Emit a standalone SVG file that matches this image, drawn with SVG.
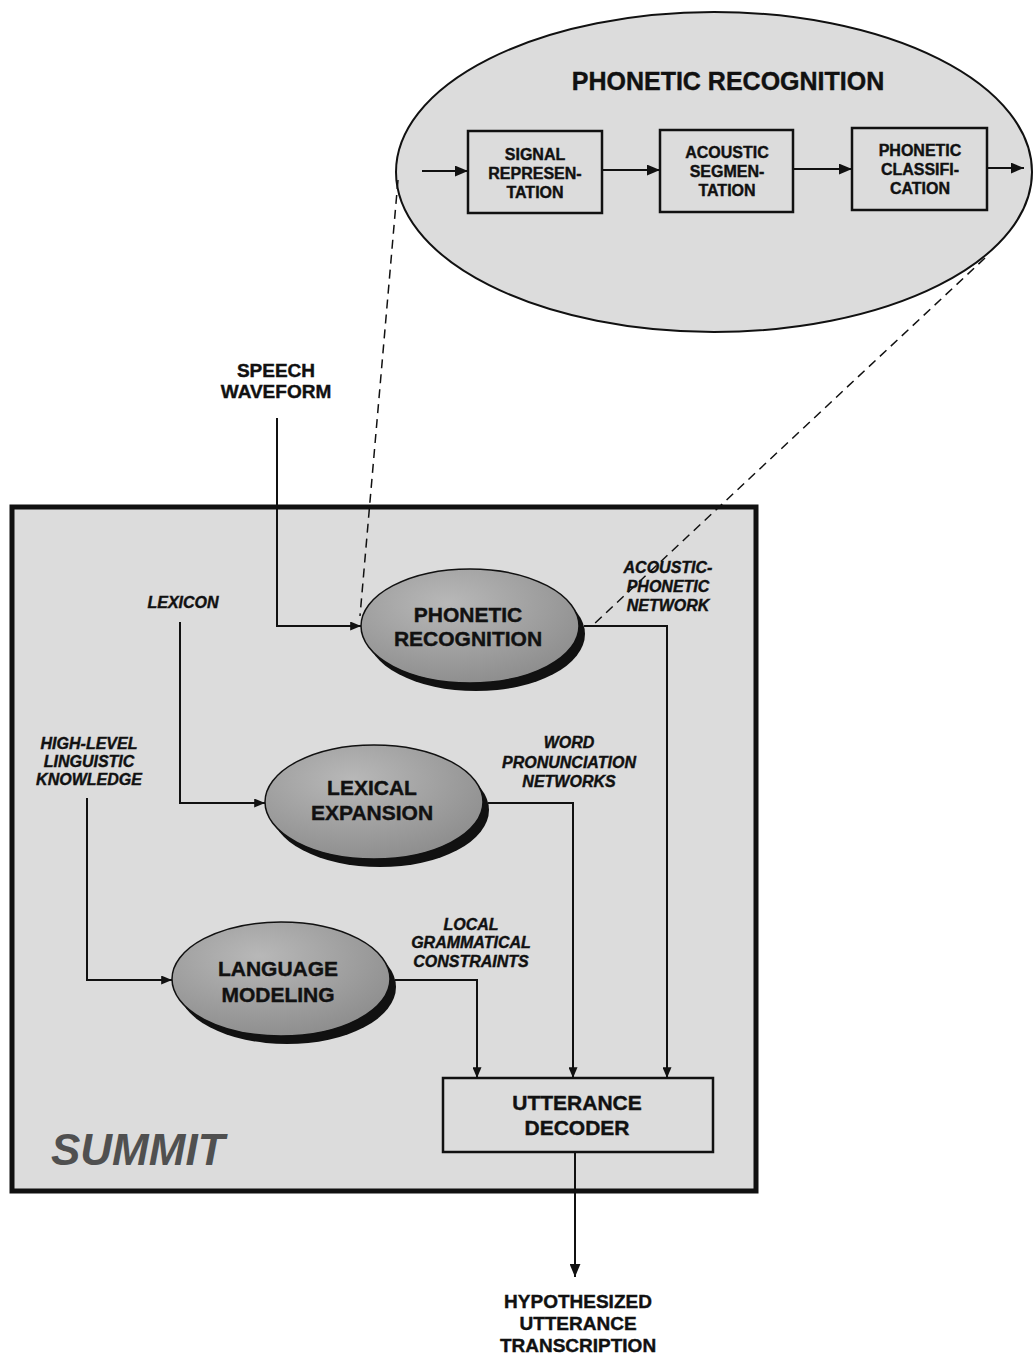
<svg xmlns="http://www.w3.org/2000/svg" width="1034" height="1357" viewBox="0 0 1034 1357">
<defs>
<style>
.t{font-family:"Liberation Sans",Arial,sans-serif;font-weight:bold;fill:#111;stroke:#111;stroke-width:0.4;text-anchor:middle}
.i{font-style:italic}
.ln{fill:none;stroke:#111;stroke-width:2}
.ds{fill:none;stroke:#111;stroke-width:1.5;stroke-dasharray:9,6}
.bx{fill:#dcdcdc;stroke:#111;stroke-width:2.5}
.ov{fill:url(#og);stroke:#111;stroke-width:1.5}
.sh{fill:#111}
</style>
<radialGradient id="og" cx="0.4" cy="0.3" r="0.75">
<stop offset="0" stop-color="#b8b8b8"/>
<stop offset="1" stop-color="#8c8c8c"/>
</radialGradient>
<marker id="ah" viewBox="0 0 12 10" refX="12" refY="5" markerWidth="12" markerHeight="9" orient="auto" markerUnits="userSpaceOnUse">
<path d="M0,0 L12,5 L0,10 z" fill="#111"/>
</marker>
<marker id="ahb" viewBox="0 0 12 10" refX="12" refY="5" markerWidth="13" markerHeight="11" orient="auto" markerUnits="userSpaceOnUse">
<path d="M0,0 L12,5 L0,10 z" fill="#111"/>
</marker>
</defs>
<rect width="1034" height="1357" fill="#ffffff"/>

<g id="phonetic-detail">
<ellipse cx="714" cy="172" rx="318" ry="160" fill="#dcdcdc" stroke="#111" stroke-width="2"/>
<text class="t" x="728" y="90" font-size="25">PHONETIC RECOGNITION</text>
</g>
<g id="signal-representation">
<rect class="bx" x="468" y="131" width="134" height="82"/>
<text class="t" font-size="16"><tspan x="535" y="160">SIGNAL</tspan><tspan x="535" y="179">REPRESEN-</tspan><tspan x="535" y="198">TATION</tspan></text>
</g>
<g id="acoustic-segmentation">
<rect class="bx" x="660" y="130" width="133" height="82"/>
<text class="t" font-size="16"><tspan x="727" y="158">ACOUSTIC</tspan><tspan x="727" y="177">SEGMEN-</tspan><tspan x="727" y="196">TATION</tspan></text>
</g>
<g id="phonetic-classification">
<rect class="bx" x="852" y="128" width="135" height="82"/>
<text class="t" font-size="16"><tspan x="920" y="156">PHONETIC</tspan><tspan x="920" y="175">CLASSIFI-</tspan><tspan x="920" y="194">CATION</tspan></text>
</g>

<g id="summit-box">
<rect x="12" y="507" width="744" height="684" fill="#dcdcdc" stroke="#111" stroke-width="5"/>
<text x="51" y="1165" font-family="Liberation Sans,Arial,sans-serif" font-weight="bold" font-style="italic" font-size="44" fill="#505050">SUMMIT</text>
</g>

<g id="phonetic-recognition">
<ellipse class="sh" cx="476" cy="634" rx="109" ry="57"/>
<ellipse class="ov" cx="470" cy="626" rx="109" ry="57"/>
<text class="t" font-size="21"><tspan x="468" y="622">PHONETIC</tspan><tspan x="468" y="646">RECOGNITION</tspan></text>
</g>
<g id="lexical-expansion">
<ellipse class="sh" cx="380" cy="810" rx="109" ry="57"/>
<ellipse class="ov" cx="374" cy="802" rx="109" ry="57"/>
<text class="t" font-size="21"><tspan x="372" y="795">LEXICAL</tspan><tspan x="372" y="820">EXPANSION</tspan></text>
</g>
<g id="language-modeling">
<ellipse class="sh" cx="287" cy="987" rx="109" ry="57"/>
<ellipse class="ov" cx="281" cy="979" rx="109" ry="57"/>
<text class="t" font-size="21"><tspan x="278" y="976">LANGUAGE</tspan><tspan x="278" y="1002">MODELING</tspan></text>
</g>
<g id="utterance-decoder">
<rect x="443" y="1078" width="270" height="74" fill="#dcdcdc" stroke="#111" stroke-width="2.5"/>
<text class="t" font-size="21"><tspan x="577" y="1110">UTTERANCE</tspan><tspan x="577" y="1135">DECODER</tspan></text>
</g>

<g id="labels">
<text class="t" font-size="19"><tspan x="276" y="377">SPEECH</tspan><tspan x="276" y="398">WAVEFORM</tspan></text>
<text class="t i" font-size="16" x="183" y="608">LEXICON</text>
<text class="t i" font-size="16"><tspan x="89" y="749">HIGH-LEVEL</tspan><tspan x="89" y="767">LINGUISTIC</tspan><tspan x="89" y="785">KNOWLEDGE</tspan></text>
<text class="t i" font-size="16"><tspan x="668" y="573">ACOUSTIC-</tspan><tspan x="668" y="592">PHONETIC</tspan><tspan x="668" y="611">NETWORK</tspan></text>
<text class="t i" font-size="16"><tspan x="569" y="748">WORD</tspan><tspan x="569" y="768">PRONUNCIATION</tspan><tspan x="569" y="787">NETWORKS</tspan></text>
<text class="t i" font-size="16"><tspan x="471" y="930">LOCAL</tspan><tspan x="471" y="948">GRAMMATICAL</tspan><tspan x="471" y="967">CONSTRAINTS</tspan></text>
<text class="t" font-size="19"><tspan x="578" y="1308">HYPOTHESIZED</tspan><tspan x="578" y="1330">UTTERANCE</tspan><tspan x="578" y="1352">TRANSCRIPTION</tspan></text>
</g>

<g id="connectors">
<line class="ln" x1="422" y1="171" x2="468" y2="171" marker-end="url(#ahb)"/>
<line class="ln" x1="602" y1="170" x2="660" y2="170" marker-end="url(#ahb)"/>
<line class="ln" x1="793" y1="169" x2="852" y2="169" marker-end="url(#ahb)"/>
<line class="ln" x1="987" y1="168" x2="1024" y2="168" marker-end="url(#ahb)"/>
<line class="ds" x1="398" y1="180" x2="360" y2="616"/>
<line class="ds" x1="985" y1="258" x2="593" y2="625"/>
<polyline class="ln" points="277,418 277,626 361,626" marker-end="url(#ah)"/>
<polyline class="ln" points="180,622 180,803 265,803" marker-end="url(#ah)"/>
<polyline class="ln" points="87,798 87,980 172,980" marker-end="url(#ah)"/>
<polyline class="ln" points="584,626 667,626 667,1078" marker-end="url(#ah)"/>
<polyline class="ln" points="488,803 573,803 573,1078" marker-end="url(#ah)"/>
<polyline class="ln" points="395,980 477,980 477,1078" marker-end="url(#ah)"/>
<line class="ln" x1="575" y1="1152" x2="575" y2="1277" marker-end="url(#ahb)"/>
</g>
</svg>
